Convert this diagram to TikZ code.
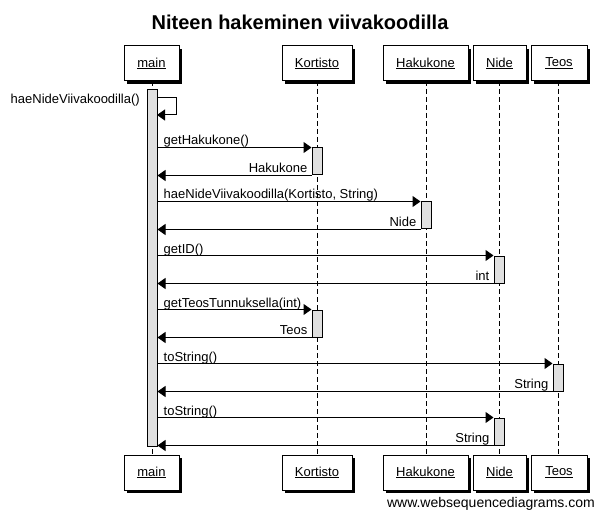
\documentclass[tikz,border=0pt]{standalone}
\usepackage{fontspec}
\setmainfont{Liberation Sans}
\usetikzlibrary{arrows.meta,shadows}
\begin{document}
\begin{tikzpicture}[x=1pt,y=-1pt,
  objbox/.style={draw, fill=white, line width=1pt, minimum width=#1, minimum height=35pt, inner sep=0pt,
    font=\fontsize{13}{15}\selectfont,
    drop shadow={shadow xshift=3pt, shadow yshift=-3pt, fill=black, opacity=1}},
  actbar/.style={draw, fill=black!12, line width=1pt, minimum width=10pt, minimum height=#1, inner sep=0pt},
  life/.style={dash pattern=on 5pt off 3pt, line width=1pt},
  msg/.style={line width=1pt, -{Triangle[length=8pt,width=11pt]}},
  lbl/.style={font=\fontsize{13}{15}\selectfont, inner sep=0pt}]
\useasboundingbox (0,0) rectangle (597,513);
\fill[white] (0,0) rectangle (597,513);
% title
\node[font=\bfseries\fontsize{20}{24}\selectfont, inner sep=0pt, anchor=base] (title) at (300,30) {Niteen hakeminen viivakoodilla};
% top boxes
\node[objbox=55pt] (mt) at (151.5,63.5) {\underline{main}};
\node[objbox=70pt] (kt) at (317,63.5) {\underline{Kortisto}};
\node[objbox=85pt] (ht) at (425.5,63.5) {\underline{Hakukone}};
\node[objbox=53pt] (nt) at (499.5,63.5) {\underline{Nide}};
\node[objbox=56pt] (tt) at (559,63.5) {\underline{Teos}};
% bottom boxes
\node[objbox=55pt] (mb) at (151.5,472.5) {\underline{main}};
\node[objbox=70pt] (kb) at (317,472.5) {\underline{Kortisto}};
\node[objbox=85pt] (hb) at (425.5,472.5) {\underline{Hakukone}};
\node[objbox=53pt] (nb) at (499.5,472.5) {\underline{Nide}};
\node[objbox=56pt] (tb) at (559,472.5) {\underline{Teos}};
% lifelines
\draw[life] (152,81) coordinate (ml1) -- (152,455) coordinate (ml2);
\draw[life] (317,81) coordinate (kl1) -- (317,455) coordinate (kl2);
\draw[life] (426,81) coordinate (hl1) -- (426,455) coordinate (hl2);
\draw[life] (499,81) coordinate (nl1) -- (499,455) coordinate (nl2);
\draw[life] (558,81) coordinate (tl1) -- (558,455) coordinate (tl2);
% activation bars
\node[actbar=356pt] (ma) at (152,268) {};
\node[actbar=27pt] (a1) at (317,161.5) {};
\node[actbar=27pt] (a2) at (426,215.5) {};
\node[actbar=27pt] (a3) at (499,269.5) {};
\node[actbar=27pt] (a4) at (317,323.5) {};
\node[actbar=27pt] (a5) at (558,377.5) {};
\node[actbar=27pt] (a6) at (499,431.5) {};
% self message
\coordinate (s1) at (157,98);
\coordinate (s2) at (176,98);
\coordinate (s3) at (176,115);
\coordinate (s4) at (157,115);
\draw[msg] (s1) -- (s2) -- (s3) -- (s4);
\node[lbl, anchor=base east] (l0) at (140,104) {haeNideViivakoodilla()};
% messages
\foreach \a/\call/\ret in {a1/getHakukone()/Hakukone, a2/{haeNideViivakoodilla(Kortisto, String)}/Nide, a3/getID()/int, a4/getTeosTunnuksella(int)/Teos, a5/toString()/String, a6/toString()/String}{
  \draw[msg] (ma.east |- \a.north) -- (\a.north west);
  \draw[msg] (\a.south west) -- (ma.east |- \a.south);
  \node[lbl, anchor=base west] (c-\a) at ([xshift=6pt, yshift=2.5pt]ma.east |- \a.north) {\call};
  \node[lbl, anchor=base east] (r-\a) at ([xshift=-4pt, yshift=3pt]\a.south west) {\ret};
}
% footer
\node[lbl, font=\fontsize{14}{16}\selectfont, anchor=base east] (foot) at (595,507) {www.websequencediagrams.com};
\end{tikzpicture}
\end{document}
